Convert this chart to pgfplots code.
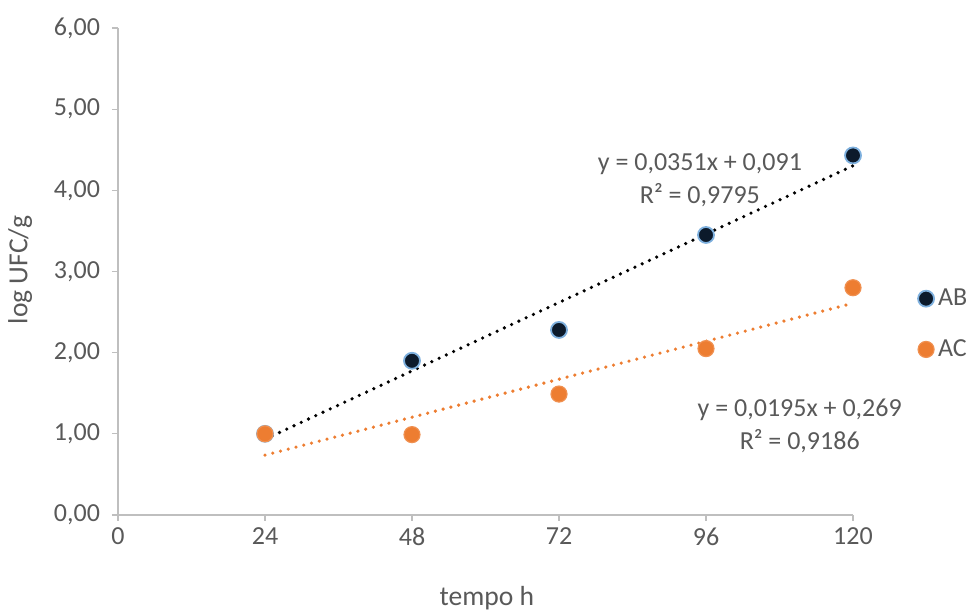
\documentclass[border=0pt]{standalone}
\usepackage{fontspec}
\setmainfont{Carlito}
\usepackage{pgfplots}
\pgfplotsset{compat=1.18}
\definecolor{txtgray}{HTML}{595959}
\definecolor{axgray}{HTML}{BFBFBF}
\definecolor{acorange}{HTML}{ED7D31}
\definecolor{abfill}{HTML}{0C1A2B}
\definecolor{abedge}{HTML}{7EB0DE}
\begin{document}
\begin{tikzpicture}
\path[use as bounding box] (0,0) rectangle (485pt,307pt);
\begin{axis}[
  at={(59pt,49.5pt)}, anchor=south west,
  width=367.5pt, height=243.5pt, scale only axis,
  xmin=0, xmax=120, ymin=0, ymax=6,
  clip=false,
  axis lines=left,
  axis line style={axgray, line width=0.6pt, -},
  xtick={0,24,48,72,96,120}, ytick={0,1,2,3,4,5,6},
  tick style={axgray, line width=0.6pt},
  major tick length=3pt, tick align=outside,
  /pgf/number format/assume math mode=true,
  ticklabel style={font=\fontsize{13}{15}\selectfont, text=txtgray},
  yticklabel style={xshift=-2.5pt, /pgf/number format/fixed, /pgf/number format/fixed zerofill, /pgf/number format/precision=2, /pgf/number format/use comma, /pgf/number format/assume math mode=true},
  xlabel={tempo h}, ylabel={log UFC/g},
  label style={font=\fontsize{13.8}{16}\selectfont, text=txtgray},
  xlabel style={at={(axis description cs:0.502,-0.170)}, anchor=center},
  ylabel style={at={(axis description cs:-0.133,0.503)}, anchor=center},
  legend style={at={(axis description cs:1.088,0.392)}, anchor=west, draw=none, fill=none,
    font=\fontsize{13}{15}\selectfont, text=txtgray, row sep=11.5pt, inner sep=0pt},
  legend cell align=left,
]
\addplot[only marks, mark=*, mark size=4pt, mark options={fill=abfill, draw=abedge, line width=0.9pt}]
  coordinates {(24,1.00) (48,1.90) (72,2.28) (96,3.45) (120,4.43)};
\addlegendentry{AB}
\addplot[only marks, mark=*, mark size=4pt, mark options={fill=acorange, draw=acorange!85!white, line width=0.6pt}]
  coordinates {(24,1.00) (48,0.99) (72,1.49) (96,2.05) (120,2.80)};
\addlegendentry{AC}
\addplot[forget plot, black, line width=1.8pt, line cap=round, dash pattern=on 0pt off 4pt]
  coordinates {(24,0.933) (120,4.303)};
\addplot[forget plot, acorange, line width=1.8pt, line cap=round, dash pattern=on 0pt off 4pt]
  coordinates {(24,0.737) (120,2.609)};
\node[align=center, font=\fontsize{13}{16.5}\selectfont, text=txtgray] at (axis cs:95,4.13)
  {y = 0,0351x + 0,091\\R² = 0,9795};
\node[align=center, font=\fontsize{13}{16.5}\selectfont, text=txtgray] at (axis cs:111.3,1.10)
  {y = 0,0195x + 0,269\\R² = 0,9186};
\end{axis}
\end{tikzpicture}
\end{document}
